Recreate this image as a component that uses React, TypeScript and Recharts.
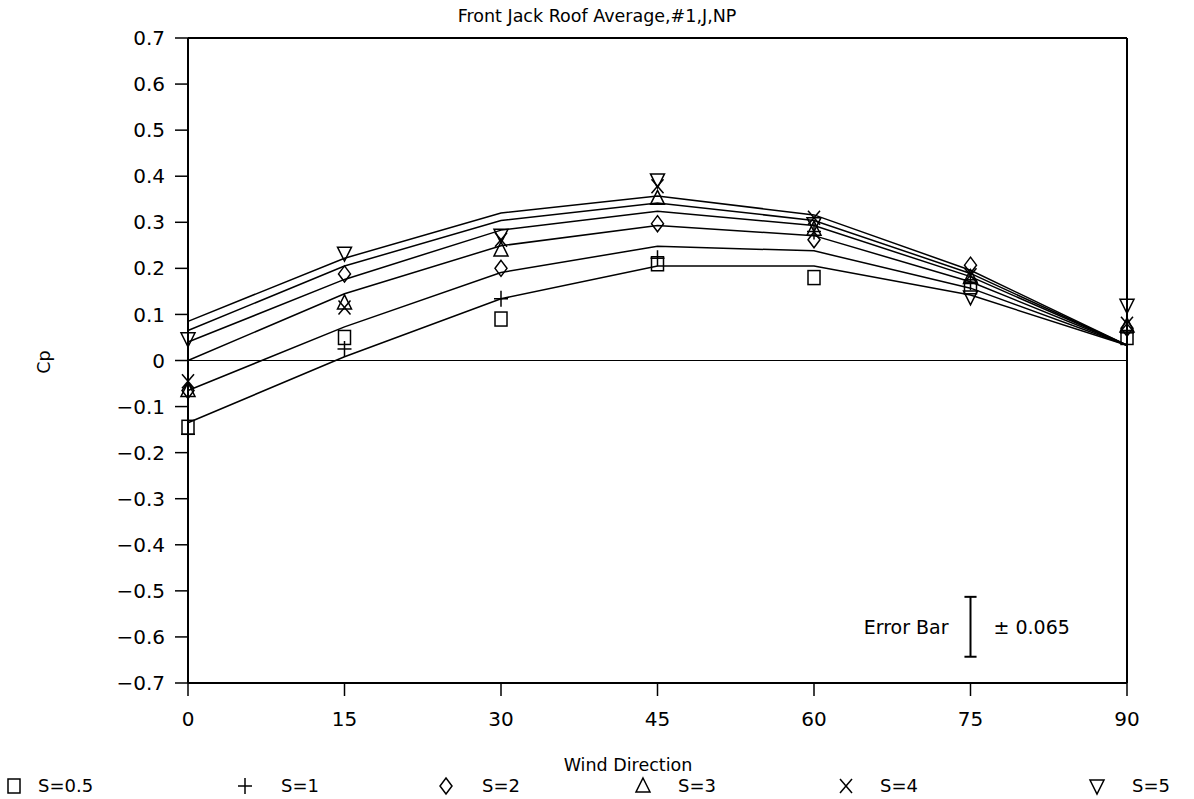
import {
  ComposedChart,
  Line,
  Scatter,
  XAxis,
  YAxis,
  ReferenceLine,
  ReferenceDot,
} from "recharts";

// wind directions (deg)
const angles = [0, 15, 30, 45, 60, 75, 90];

// measured Cp, one list per spacing
const s05 = [-0.145, 0.05, 0.09, 0.21, 0.18, 0.16, 0.05];
const s1 = [-0.16, 0.025, 0.134, 0.222, 0.28, 0.17, 0.06];
const s2 = [-0.065, 0.188, 0.2, 0.297, 0.262, 0.207, 0.07];
const s3 = [-0.065, 0.125, 0.24, 0.352, 0.285, 0.18, 0.075];
const s4 = [-0.045, 0.115, 0.262, 0.378, 0.31, 0.185, 0.08];
const s5 = [0.047, 0.233, 0.272, 0.392, 0.297, 0.138, 0.12];

// fitted curves
const fit05 = [-0.135, 0.008, 0.134, 0.205, 0.205, 0.142, 0.033];
const fit1 = [-0.065, 0.073, 0.191, 0.248, 0.238, 0.157, 0.033];
const fit2 = [0.0, 0.145, 0.249, 0.293, 0.271, 0.171, 0.033];
const fit3 = [0.04, 0.176, 0.283, 0.324, 0.293, 0.182, 0.033];
const fit4 = [0.065, 0.205, 0.304, 0.342, 0.304, 0.189, 0.033];
const fit5 = [0.085, 0.222, 0.32, 0.357, 0.316, 0.196, 0.033];

const yTicks = [0.7, 0.6, 0.5, 0.4, 0.3, 0.2, 0.1, 0, -0.1, -0.2, -0.3, -0.4, -0.5, -0.6, -0.7];

const ERR_CENTER = -0.578;
const ERR = 0.065;

const FONT = "'DejaVu Sans', sans-serif";

type Kind = "square" | "plus" | "diamond" | "triangle" | "cross" | "down";

const series: { name: string; kind: Kind; values: number[]; fit: number[]; legendX: number; labelX: number }[] = [
  { name: "S=0.5", kind: "square", values: s05, fit: fit05, legendX: 14, labelX: 38 },
  { name: "S=1", kind: "plus", values: s1, fit: fit1, legendX: 245, labelX: 281 },
  { name: "S=2", kind: "diamond", values: s2, fit: fit2, legendX: 446, labelX: 482 },
  { name: "S=3", kind: "triangle", values: s3, fit: fit3, legendX: 643, labelX: 678 },
  { name: "S=4", kind: "cross", values: s4, fit: fit4, legendX: 846, labelX: 880 },
  { name: "S=5", kind: "down", values: s5, fit: fit5, legendX: 1097, labelX: 1132 },
];

const toPoints = (vals: number[]) => angles.map((x, i) => ({ x, y: vals[i] }));

function Symbol({ kind, cx, cy }: { kind: Kind; cx: number; cy: number }) {
  const st = { fill: "none", stroke: "#000", strokeWidth: 1.5 };
  switch (kind) {
    case "square":
      return <rect x={cx - 6} y={cy - 7} width={12} height={14} {...st} />;
    case "plus":
      return (
        <g {...st}>
          <line x1={cx - 7} y1={cy} x2={cx + 7} y2={cy} />
          <line x1={cx} y1={cy - 8} x2={cx} y2={cy + 8} />
        </g>
      );
    case "diamond":
      return <polygon points={`${cx},${cy - 8} ${cx + 6},${cy} ${cx},${cy + 8} ${cx - 6},${cy}`} {...st} />;
    case "triangle":
      return <polygon points={`${cx},${cy - 8} ${cx + 7},${cy + 6} ${cx - 7},${cy + 6}`} {...st} />;
    case "cross":
      return (
        <g {...st}>
          <line x1={cx - 6} y1={cy - 7} x2={cx + 6} y2={cy + 7} />
          <line x1={cx + 6} y1={cy - 7} x2={cx - 6} y2={cy + 7} />
        </g>
      );
    default:
      return <polygon points={`${cx - 7},${cy - 6} ${cx + 7},${cy - 6} ${cx},${cy + 8}`} {...st} />;
  }
}

const fmt = (v: number) => (v === 0 ? "0" : v < 0 ? "\u2212" + Math.abs(v).toFixed(1) : v.toFixed(1));

export default function App() {
  return (
    <div style={{ position: "absolute", left: 0, top: 0, width: 1194, height: 799, background: "#fff", fontFamily: FONT }}>
      <div
        style={{
          position: "absolute",
          left: 0,
          width: 1194,
          top: 6,
          textAlign: "center",
          fontSize: 17.5,
          lineHeight: "20px",
        }}
      >
        Front Jack Roof Average,#1,J,NP
      </div>

      <ComposedChart width={1194} height={799} margin={{ top: 38, right: 67, bottom: 0, left: 0 }}>
        <XAxis
          dataKey="x"
          type="number"
          domain={[0, 90]}
          ticks={angles}
          interval={0}
          height={116}
          tickSize={13}
          tickMargin={16}
          axisLine={{ stroke: "#000", strokeWidth: 2 }}
          tickLine={{ stroke: "#000", strokeWidth: 1.5 }}
          tick={{ fill: "#000", fontSize: 20, fontFamily: FONT }}
          label={{
            content: () => (
              <text x={628} y={771} textAnchor="middle" fontSize={17.5} fontFamily={FONT} fill="#000">
                Wind Direction
              </text>
            ),
          }}
        />
        <YAxis
          type="number"
          domain={[-0.7, 0.7]}
          ticks={yTicks}
          interval={0}
          width={188}
          tickSize={13}
          tickMargin={10}
          tickFormatter={fmt}
          axisLine={{ stroke: "#000", strokeWidth: 2 }}
          tickLine={{ stroke: "#000", strokeWidth: 1.5 }}
          tick={{ fill: "#000", fontSize: 20, fontFamily: FONT }}
          label={{
            content: () => (
              <text
                x={50}
                y={362}
                transform="rotate(-90 50 362)"
                textAnchor="middle"
                fontSize={17.5}
                fontFamily={FONT}
                fill="#000"
              >
                Cp
              </text>
            ),
          }}
        />

        {/* frame and zero line */}
        <ReferenceLine y={0.7} stroke="#000" strokeWidth={2} />
        <ReferenceLine x={90} stroke="#000" strokeWidth={2} />
        <ReferenceLine y={0} stroke="#000" strokeWidth={1.2} />

        {series.map((s) => (
          <Line
            key={"fit" + s.name}
            data={toPoints(s.fit)}
            dataKey="y"
            type="linear"
            stroke="#000"
            strokeWidth={1.5}
            dot={false}
            activeDot={false}
            legendType="none"
            isAnimationActive={false}
          />
        ))}

        {series.map((s) => (
          <Scatter
            key={"pts" + s.name}
            name={s.name}
            data={toPoints(s.values)}
            dataKey="y"
            shape={(p: any) => <Symbol kind={s.kind} cx={p.cx} cy={p.cy} />}
            isAnimationActive={false}
          />
        ))}

        {/* error bar key */}
        <ReferenceLine
          segment={[
            { x: 75, y: ERR_CENTER + ERR },
            { x: 75, y: ERR_CENTER - ERR },
          ]}
          stroke="#000"
          strokeWidth={2}
        />
        <ReferenceLine
          segment={[
            { x: 74.42, y: ERR_CENTER + ERR },
            { x: 75.58, y: ERR_CENTER + ERR },
          ]}
          stroke="#000"
          strokeWidth={2}
        />
        <ReferenceLine
          segment={[
            { x: 74.42, y: ERR_CENTER - ERR },
            { x: 75.58, y: ERR_CENTER - ERR },
          ]}
          stroke="#000"
          strokeWidth={2}
        />
        <ReferenceDot
          x={75}
          y={ERR_CENTER}
          r={0}
          shape={(p: any) => (
            <g fontFamily={FONT} fontSize={19} fill="#000">
              <text x={p.cx - 22} y={p.cy + 7} textAnchor="end">
                Error Bar
              </text>
              <text x={p.cx + 23} y={p.cy + 7} textAnchor="start">
                ± 0.065
              </text>
            </g>
          )}
        />
      </ComposedChart>

      {/* legend row */}
      {series.map((s) => (
        <div key={"lg" + s.name}>
          <svg
            width={20}
            height={20}
            style={{ position: "absolute", left: s.legendX - 10, top: 776 }}
          >
            <Symbol kind={s.kind} cx={10} cy={10} />
          </svg>
          <div
            style={{
              position: "absolute",
              left: s.labelX,
              top: 775,
              fontSize: 18,
              lineHeight: "22px",
              whiteSpace: "nowrap",
            }}
          >
            {s.name}
          </div>
        </div>
      ))}
    </div>
  );
}
